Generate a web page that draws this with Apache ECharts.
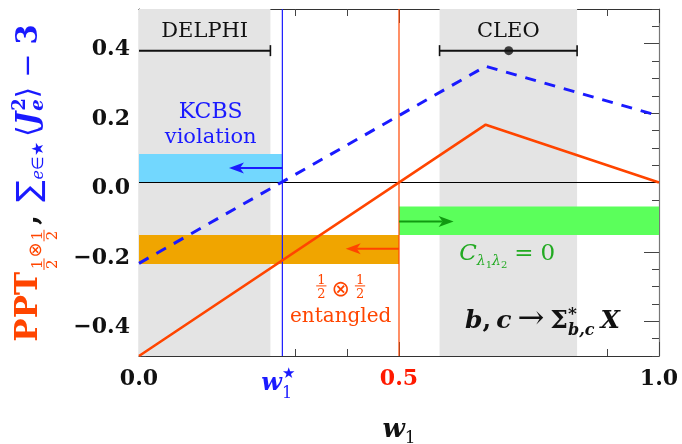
<!DOCTYPE html>
<html><head><meta charset="utf-8">
<script src="https://cdn.jsdelivr.net/npm/echarts@6/dist/echarts.min.js"></script>
<style>html,body{margin:0;padding:0;background:#fff}#c{width:682px;height:444px}</style>
</head><body><div id="c"></div>
<script>
// ---------------- data ----------------
const X_MIN = 0, X_MAX = 1, Y_MIN = -0.5, Y_MAX = 0.5;
const W_STAR = 0.2757;           // KCBS threshold w1*
const W_HALF = 0.5;              // PPT threshold
const PPT_X = [0, 0.6667, 1.0];
const PPT_Y = [-0.5, 0.1667, 0.0];
const KCBS_X = [0, 0.6667, 1.0];
const KCBS_Y = [-0.233, 0.335, 0.192];
const EXPERIMENTS = ['DELPHI', 'CLEO'];
const EXP_LOW = [-0.1, 0.578];
const EXP_HIGH = [0.2527, 0.8425];
const EXP_CENTRAL = [null, 0.711];
const EXP_LEVEL = 0.38;
const X_TICK_VALUES = [0, 0.5, 1.0];
const X_TICK_LABELS = ['0.0', '0.5', '1.0'];
const Y_TICK_VALUES = [-0.4, -0.2, 0, 0.2, 0.4];
const Y_TICK_LABELS = ['\u22120.4', '\u22120.2', '0.0', '0.2', '0.4'];
// bands [x0, x1, y0, y1]
const KCBS_BAND = [0, W_STAR, 0, 0.082];
const ENT_BAND = [0, W_HALF, -0.235, -0.151];
const C0_BAND = [W_HALF, 1.0, -0.151, -0.069];
// arrows [xStart, xTip, y]
const KCBS_ARROW = [W_STAR, 0.173, 0.0415];
const ENT_ARROW = [W_HALF, 0.3975, -0.191];
const C0_ARROW = [W_HALF, 0.605, -0.1125];

// ---------------- styles ----------------
const SERIF = "'DejaVu Serif', 'DejaVu Sans', serif";
const SANS = "'DejaVu Sans', sans-serif";
const RED = '#ff4500', BLUE = '#1a1aff', GREEN = '#22aa22', BLACK = '#111';
const AX = '#333', TK = '#444';

function rectSeries(rows, color, z) {
  return {
    type: 'custom', z, silent: true, data: rows, encode: { x: [0, 1], y: [2, 3] },
    renderItem(params, api) {
      const a = api.coord([api.value(0), api.value(3)]);
      const b = api.coord([api.value(1), api.value(2)]);
      return { type: 'rect', shape: { x: a[0], y: a[1], width: b[0] - a[0], height: b[1] - a[1] }, style: { fill: color } };
    }
  };
}
function arrowSeries(row, color) {
  return {
    type: 'custom', z: 6, silent: true, data: [row], encode: { x: [0, 1], y: 2 },
    renderItem(params, api) {
      const s = api.coord([api.value(0), api.value(2)]);
      const t = api.coord([api.value(1), api.value(2)]);
      const dir = Math.sign(t[0] - s[0]);
      const L = 15, H = 5.5, N = 4;
      const back = t[0] - dir * L;
      return {
        type: 'group', children: [
          { type: 'line', shape: { x1: s[0], y1: s[1], x2: back + dir * N, y2: t[1] }, style: { stroke: color, lineWidth: 2 } },
          { type: 'polygon', shape: { points: [[t[0], t[1]], [back, t[1] - H], [back + dir * N, t[1]], [back, t[1] + H]] }, style: { fill: color } }
        ]
      };
    }
  };
}
function lineSeries(xs, ys, color, width, type, z) {
  return {
    type: 'line', z, silent: true, symbol: 'none', animation: false,
    data: xs.map((x, i) => [x, ys[i]]),
    lineStyle: { color, width, type: type || 'solid' }
  };
}

const grayRows = EXPERIMENTS.map((_, i) => [Math.max(EXP_LOW[i], X_MIN), EXP_HIGH[i], Y_MIN, Y_MAX]);

const series = [
  rectSeries(grayRows, '#e4e4e4', 1),
  rectSeries([KCBS_BAND], '#72d7fe', 2),
  rectSeries([ENT_BAND], '#f0a500', 2),
  rectSeries([C0_BAND], '#5bff5b', 2),
  lineSeries([X_MIN, X_MAX], [0, 0], '#000', 1.2, 'solid', 3),
  lineSeries([W_STAR, W_STAR], [Y_MIN, Y_MAX], BLUE, 1.2, 'solid', 3),
  lineSeries([W_HALF, W_HALF], [Y_MIN, Y_MAX], RED, 1.2, 'solid', 3),
  lineSeries(KCBS_X, KCBS_Y, BLUE, 3, [11, 9], 4),
  lineSeries(PPT_X, PPT_Y, RED, 2.6, 'solid', 4),
  arrowSeries(KCBS_ARROW, BLUE),
  arrowSeries(ENT_ARROW, RED),
  arrowSeries(C0_ARROW, '#119911'),
  {
    type: 'custom', z: 6, silent: true,
    data: EXPERIMENTS.map((_, i) => [EXP_LOW[i], EXP_HIGH[i], EXP_LEVEL]),
    encode: { x: [0, 1], y: 2 },
    renderItem(params, api) {
      const lo = api.value(0), hi = api.value(1), y = api.value(2);
      const a = api.coord([Math.max(lo, X_MIN), y]);
      const b = api.coord([hi, y]);
      const ch = [{ type: 'line', shape: { x1: a[0], y1: a[1], x2: b[0], y2: b[1] }, style: { stroke: BLACK, lineWidth: 2 } }];
      const cap = p => ({ type: 'line', shape: { x1: p[0], y1: p[1] - 5.5, x2: p[0], y2: p[1] + 5.5 }, style: { stroke: BLACK, lineWidth: 1.6 } });
      if (lo >= X_MIN) ch.push(cap(a));
      ch.push(cap(b));
      return { type: 'group', children: ch };
    }
  },
  {
    type: 'scatter', z: 7, silent: true, symbol: 'circle', symbolSize: 9,
    itemStyle: { color: BLACK },
    data: EXP_CENTRAL.map((c, i) => c === null ? null : [c, EXP_LEVEL]).filter(d => d)
  }
];

const xBase = {
  type: 'value', min: X_MIN, max: X_MAX, interval: 0.5,
  splitLine: { show: false }, minorSplitLine: { show: false },
  axisLine: { show: true, onZero: false, lineStyle: { color: AX, width: 1.2 } },
  axisTick: { show: true, inside: true, length: 14, lineStyle: { color: TK, width: 1 } },
  minorTick: { show: true, splitNumber: 5, length: 7, lineStyle: { color: TK, width: 1 } }
};
const yMinor = {
  type: 'value', min: Y_MIN, max: Y_MAX, interval: 0.05,
  splitLine: { show: false },
  axisLine: { show: true, onZero: false, lineStyle: { color: AX, width: 1.2 } },
  axisTick: { show: true, inside: true, length: 7, lineStyle: { color: TK, width: 1 } }
};
const yMajor = {
  type: 'value', min: Y_MIN, max: Y_MAX, interval: 0.05,
  splitLine: { show: false },
  axisLine: { show: false, onZero: false },
  axisLabel: { show: false },
  axisTick: { show: true, inside: true, length: 15, customValues: Y_TICK_VALUES, lineStyle: { color: TK, width: 1 } }
};
const near = (a, b) => Math.abs(a - b) < 1e-6;

const option = {
  animation: false,
  backgroundColor: '#fff',
  grid: { left: 139, right: 23, top: 9, bottom: 88, containLabel: false, outerBoundsMode: 'none' },
  xAxis: [
    Object.assign({}, xBase, {
      position: 'bottom',
      axisLabel: {
        margin: 12, fontSize: 22, fontWeight: 'bold', fontFamily: SERIF, color: BLACK,
        formatter: v => {
          const i = X_TICK_VALUES.findIndex(t => near(t, v));
          if (i < 0) return '';
          return near(v, W_HALF) ? '{r|' + X_TICK_LABELS[i] + '}' : X_TICK_LABELS[i];
        },
        rich: { r: { color: '#ff1a00', fontSize: 22, fontWeight: 'bold', fontFamily: SERIF } }
      }
    }),
    Object.assign({}, xBase, { position: 'top', axisLabel: { show: false } })
  ],
  yAxis: [
    Object.assign({}, yMinor, {
      position: 'left',
      axisLabel: {
        margin: 9, fontSize: 22, fontWeight: 'bold', fontFamily: SERIF, color: BLACK,
        verticalAlign: 'top', lineHeight: 12,
        formatter: v => { const i = Y_TICK_VALUES.findIndex(t => near(t, v)); return i < 0 ? '' : Y_TICK_LABELS[i]; }
      }
    }),
    Object.assign({}, yMajor, { position: 'left' }),
    Object.assign({}, yMinor, { position: 'right', axisLabel: { show: false }, axisLine: { show: true, onZero: false, lineStyle: { color: '#777', width: 1.2 } } }),
    Object.assign({}, yMajor, { position: 'right' })
  ],
  series
};

const chart = echarts.init(document.getElementById('c'), null, { renderer: 'canvas' });
chart.setOption(option);

// ---------------- text layout helpers ----------------
const ZT = 100;
const mctx = document.createElement('canvas').getContext('2d');
function fontOf(t) { return (t.italic ? 'italic ' : '') + (t.bold ? 'bold ' : '') + t.size + 'px ' + (t.family || SERIF); }
function textW(s, f) { mctx.font = f; mctx.textBaseline = 'alphabetic'; return mctx.measureText(s).width; }
function midOff(f) { mctx.font = f; mctx.textBaseline = 'middle'; return mctx.measureText('H').actualBoundingBoxDescent; }
function capH(s, f) { mctx.font = f; mctx.textBaseline = 'alphabetic'; return mctx.measureText(s).actualBoundingBoxAscent; }
function textEl(text, font, color, x, baseline, align) {
  return { type: 'text', x, y: baseline - midOff(font), silent: true, z: ZT,
    style: { text, font, fill: color, textAlign: align || 'left', textVerticalAlign: 'middle' } };
}
function layout(tokens, color) {
  let x = 0; const ch = [];
  tokens.forEach(t => {
    const c = t.color || color;
    x += t.pre || 0;
    if (t.frac) {
      const f = fontOf(t);
      const w = Math.max(textW(t.frac[0], f), textW(t.frac[1], f)) + 2;
      const bar = t.bar || 0, g = t.gap || 2;
      ch.push(textEl(t.frac[0], f, c, x + w / 2, bar - g, 'center'));
      ch.push(textEl(t.frac[1], f, c, x + w / 2, bar + g + capH(t.frac[1], f), 'center'));
      ch.push({ type: 'line', silent: true, z: ZT, shape: { x1: x, y1: bar, x2: x + w, y2: bar }, style: { stroke: c, lineWidth: 1 } });
      x += w;
    } else if (t.stack) {
      let w = 0;
      t.stack.forEach(s => { const f = fontOf(s); ch.push(textEl(s.text, f, s.color || c, x, s.dy || 0, 'left')); w = Math.max(w, textW(s.text, f)); });
      x += w;
    } else {
      const f = fontOf(t);
      ch.push(textEl(t.text, f, c, x, t.dy || 0, 'left'));
      x += textW(t.text, f);
    }
    x += t.post || 0;
  });
  return { ch, w: x };
}
function place(tokens, color, px, py, align, rotation) {
  const L = layout(tokens, color);
  const off = align === 'center' ? -L.w / 2 : (align === 'right' ? -L.w : 0);
  return { type: 'group', x: px, y: py, rotation: rotation || 0, silent: true, z: ZT,
    children: [{ type: 'group', x: off, y: 0, z: ZT, children: L.ch }] };
}
const P = (x, y) => chart.convertToPixel({ gridIndex: 0 }, [x, y]);

const g = [];
// y-axis title (rotated)
g.push(place([
  { text: 'PPT', size: 31, bold: true, color: RED },
  { frac: ['1', '2'], size: 15, color: RED, bar: 7, pre: 2 },
  { text: '\u2297', size: 18, color: RED, dy: 4, family: SANS, pre: 1, post: 1 },
  { frac: ['1', '2'], size: 15, color: RED, bar: 7 },
  { text: ',', size: 28, bold: true, color: BLACK, pre: 5, post: 13 },
  { text: '\u2211', size: 32, color: BLUE, dy: 2, family: SANS },
  { text: 'e', size: 16, italic: true, color: BLUE, dy: 6, pre: 1 },
  { text: '\u2208', size: 16, color: BLUE, dy: 6, family: SANS },
  { text: '\u2605', size: 16, color: BLUE, dy: 6, family: SANS, post: 5 },
  { text: '\u27E8', size: 29, color: BLUE, family: SANS },
  { text: 'J', size: 29, bold: true, italic: true, color: BLUE },
  { stack: [{ text: '2', size: 18, bold: true, dy: -12 }, { text: 'e', size: 18, bold: true, italic: true, dy: 6 }], color: BLUE, pre: 1 },
  { text: '\u27E9', size: 29, color: BLUE, family: SANS, post: 9 },
  { text: '\u2212', size: 29, color: BLUE, post: 9 },
  { text: '3', size: 29, bold: true, color: BLUE }
], BLACK, 37, 183, 'center', Math.PI / 2));

// x axis title
const pc = P(0.5, 0);
g.push(place([
  { text: 'w', size: 26, bold: true, italic: true },
  { text: '1', size: 17, dy: 6 }
], BLACK, pc[0], 437, 'center'));

// w1* tick label
const ps = P(W_STAR, 0);
g.push(place([
  { text: 'w', size: 24, bold: true, italic: true },
  { stack: [{ text: '\u2605', size: 15, dy: -12, family: SANS }, { text: '1', size: 16, dy: 8 }] }
], BLUE, ps[0] - 21, 390, 'left'));

// experiment labels
EXPERIMENTS.forEach((name, i) => {
  const cx = (Math.max(EXP_LOW[i], X_MIN) + EXP_HIGH[i]) / 2;
  const p = P(cx, 0.4195);
  g.push(place([{ text: name, size: 21 }], BLACK, p[0], p[1], 'center'));
});

// KCBS violation
let p = P((KCBS_BAND[0] + KCBS_BAND[1]) / 2, 0.1866);
g.push(place([{ text: 'KCBS', size: 22 }], BLUE, p[0], p[1], 'center'));
p = P((KCBS_BAND[0] + KCBS_BAND[1]) / 2, 0.1145);
g.push(place([{ text: 'violation', size: 21 }], BLUE, p[0], p[1], 'center'));

// 1/2 (x) 1/2 entangled
const entX = (W_STAR + W_HALF) / 2;
p = P(entX, -0.298);
g.push(place([
  { frac: ['1', '2'], size: 13, bar: 0 },
  { text: '\u2297', size: 22, family: SANS, dy: 10, pre: 5, post: 5 },
  { frac: ['1', '2'], size: 13, bar: 0 }
], RED, p[0], p[1], 'center'));
p = P(entX, -0.402);
g.push(place([{ text: 'entangled', size: 20 }], RED, p[0], p[1], 'center'));

// C = 0
p = P(0.708, -0.223);
g.push(place([
  { text: 'C', size: 23, italic: true },
  { text: '\u03BB', size: 14, italic: true, dy: 5 },
  { text: '1', size: 10, dy: 8 },
  { text: '\u03BB', size: 14, italic: true, dy: 5 },
  { text: '2', size: 10, dy: 8, post: 7 },
  { text: '=', size: 23, post: 7 },
  { text: '0', size: 23 }
], GREEN, p[0], p[1], 'center'));

// b, c -> Sigma* X
p = P(0.776, -0.42);
g.push(place([
  { text: 'b', size: 25, bold: true, italic: true },
  { text: ',', size: 25, bold: true, post: 5 },
  { text: 'c', size: 25, bold: true, italic: true, post: 6 },
  { text: '\u2192', size: 32, post: 6 },
  { text: '\u03A3', size: 25, bold: true },
  { stack: [{ text: '*', size: 17, bold: true, dy: -9 }, { text: 'b,c', size: 16, bold: true, italic: true, dy: 7 }] },
  { text: 'X', size: 25, bold: true, italic: true, pre: 6 }
], BLACK, p[0], p[1], 'center'));

chart.setOption({ graphic: { elements: g } });
</script>
</body></html>
